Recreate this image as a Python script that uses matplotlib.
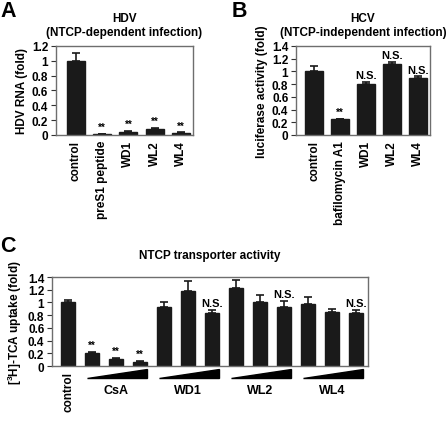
import numpy as np
import matplotlib
matplotlib.use("Agg")
import matplotlib.pyplot as plt
from matplotlib.transforms import blended_transform_factory
from matplotlib.patches import Polygon

plt.rcParams['font.family'] = ['Liberation Sans', 'DejaVu Sans']
plt.rcParams['font.weight'] = 'bold'
plt.rcParams['font.size'] = 8

# Panel A: HDV
a_labels = ['control', 'preS1 peptide', 'WD1', 'WL2', 'WL4']
a_values = [1.00, 0.02, 0.04, 0.08, 0.03]
a_errors = [0.10, 0.00, 0.02, 0.02, 0.01]
a_marks = ['', '**', '**', '**', '**']

# Panel B: HCV
b_labels = ['control', 'bafilomycin A1', 'WD1', 'WL2', 'WL4']
b_values = [1.00, 0.25, 0.80, 1.11, 0.90]
b_errors = [0.09, 0.00, 0.04, 0.04, 0.02]
b_marks = ['', '**', 'N.S.', 'N.S.', 'N.S.']

# Panel C: NTCP transporter activity
c_values = [1.00, 0.20, 0.11, 0.07, 0.93, 1.18, 0.83, 1.23, 1.00, 0.93, 0.97, 0.85, 0.83]
c_errors = [0.04, 0.02, 0.02, 0.01, 0.07, 0.15, 0.05, 0.12, 0.12, 0.09, 0.12, 0.05, 0.05]
c_marks = ['', '**', '**', '**', '', '', 'N.S.', '', '', 'N.S.', '', '', 'N.S.']
c_groups = ['CsA', 'WD1', 'WL2', 'WL4']

fig = plt.figure(figsize=(4.47, 4.27), dpi=100)

spine_color = '#6e6e6e'


def style_axes(ax, ymax, step):
    ax.set_ylim(0, ymax)
    ticks = np.round(np.arange(0, ymax + 1e-9, step), 1)
    ax.set_yticks(ticks)
    ax.set_yticklabels(['%g' % t for t in ticks], fontsize=8.5, fontweight='bold')
    for s in ax.spines.values():
        s.set_color(spine_color)
        s.set_linewidth(1.0)
    ax.tick_params(axis='y', length=3.5, width=0.8, color='#333333', pad=2)
    ax.tick_params(axis='x', length=0)


def bars(ax, values, errors, width):
    x = np.arange(len(values))
    ax.bar(x, values, width=width, color='#1a1a1a', edgecolor='#1a1a1a')
    ax.errorbar(x, values, yerr=[np.zeros(len(errors)), errors], fmt='none',
                ecolor='#1a1a1a', elinewidth=1.2, capsize=3, capthick=1.2)
    return x


def marks(ax, x, values, errors, labels, pad):
    for xi, v, e, m in zip(x, values, errors, labels):
        if not m:
            continue
        fs = 7 if m == '**' else 8
        ax.text(xi, v + e + pad, m, ha='center', va='bottom', fontsize=fs,
                fontweight='bold')


# ---- Panel A
axA = fig.add_axes([0.125, 0.6815, 0.307, 0.2085])
x = bars(axA, a_values, a_errors, 0.68)
marks(axA, x, a_values, a_errors, a_marks, 0.02)
axA.set_xlim(-0.75, 4.45)
style_axes(axA, 1.2, 0.2)
axA.set_xticks(x)
axA.set_xticklabels(a_labels, rotation=90, fontsize=8.5, fontweight='bold')
axA.set_ylabel('HDV RNA (fold)', fontsize=8.5, fontweight='bold', labelpad=3)
axA.set_title('HDV\n(NTCP-dependent infection)', fontsize=8.5, fontweight='bold',
              pad=8, linespacing=1.25)

# ---- Panel B
axB = fig.add_axes([0.662, 0.6815, 0.300, 0.2085])
x = bars(axB, b_values, b_errors, 0.68)
marks(axB, x, b_values, b_errors, b_marks, 0.03)
axB.set_xlim(-0.7, 4.45)
style_axes(axB, 1.4, 0.2)
axB.set_xticks(x)
axB.set_xticklabels(b_labels, rotation=90, fontsize=8.5, fontweight='bold')
axB.set_ylabel('luciferase activity (fold)', fontsize=8.5, fontweight='bold', labelpad=3)
axB.set_title('HCV\n(NTCP-independent infection)', fontsize=8.5, fontweight='bold',
              pad=8, linespacing=1.25)

# ---- Panel C
axC = fig.add_axes([0.1163, 0.1405, 0.707, 0.2084])
x = bars(axC, c_values, c_errors, 0.56)
marks(axC, x, c_values, c_errors, c_marks, 0.03)
axC.set_xlim(-0.67, 12.5)
style_axes(axC, 1.4, 0.2)
axC.set_xticks([0])
axC.set_xticklabels(['control'], rotation=90, fontsize=8.5, fontweight='bold')
axC.set_ylabel('[$\\mathregular{^3}$H]-TCA uptake (fold)', fontsize=8.5,
               fontweight='bold', labelpad=3)
axC.set_title('NTCP transporter activity', fontsize=8.5, fontweight='bold', pad=14)

tr = blended_transform_factory(axC.transData, axC.transAxes)
for g, name in enumerate(c_groups):
    start = 1 + 3 * g
    x0, x1 = start - 0.22, start + 2 + 0.28
    tri = Polygon([[x0, -0.135], [x1, -0.135], [x1, -0.035]], closed=True,
                  facecolor='black', edgecolor='black', transform=tr, clip_on=False)
    axC.add_patch(tri)
    axC.text(start + 1, -0.20, name, transform=tr, ha='center', va='top',
             fontsize=9, fontweight='bold')

# panel letters
fig.text(0.0, 0.997, 'A', fontsize=15.5, fontweight='bold', va='top')
fig.text(0.518, 0.997, 'B', fontsize=15.5, fontweight='bold', va='top')
fig.text(0.0, 0.448, 'C', fontsize=15.5, fontweight='bold', va='top')

fig.savefig('out.png', dpi=100)
